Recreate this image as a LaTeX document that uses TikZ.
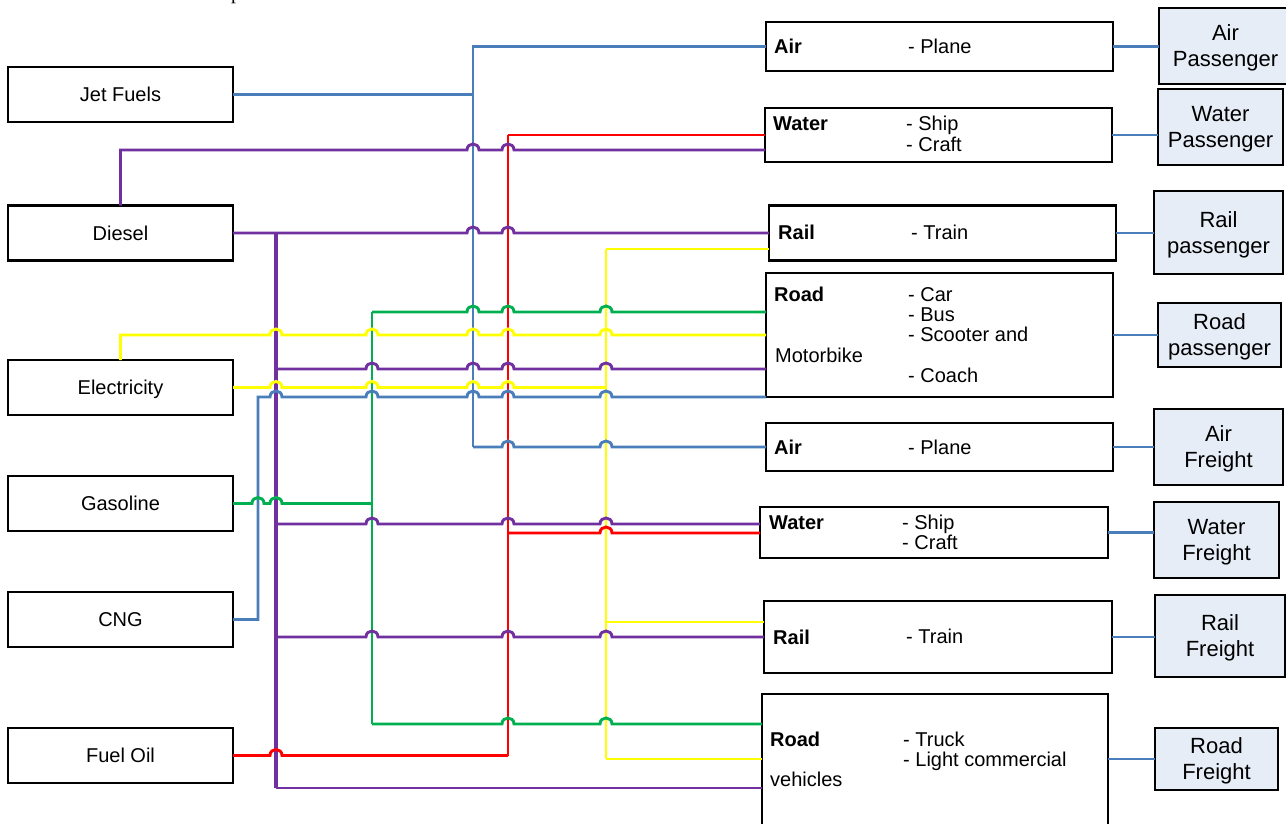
\documentclass[tikz,border=0pt]{standalone}
\usepackage{fontspec}
\setmainfont{Liberation Sans}
\newfontfamily\capfont{Liberation Serif}
\definecolor{cblue}{HTML}{4A7EBB}
\definecolor{cpurple}{HTML}{7030A0}
\definecolor{cred}{HTML}{FF0000}
\definecolor{cyellow}{HTML}{FFFF00}
\definecolor{cgreen}{HTML}{00B050}
\definecolor{cfill}{HTML}{E6EDF7}
\newcommand{\jmp}[2]{-- ({#1-6},{#2}) .. controls ({#1-6},{#2-8}) and ({#1+6},{#2-8}) .. ({#1+6},{#2})}
\begin{document}
\begin{tikzpicture}[x=1pt,y=-1pt,
  box/.style={draw=black, line width=2.6pt, inner sep=0pt, outer sep=0pt, font=\fontsize{20}{21}\selectfont, text height=14.3pt, text depth=0pt},
  lbox/.style={box, minimum width=225pt, minimum height=55pt},
  mbox/.style={box},
  rbox/.style={box, fill=cfill, align=center, font=\fontsize{22}{26}\selectfont, text height=41.7pt, text depth=0pt},
  lab/.style={inner sep=0pt, anchor=base west, font=\fontsize{20}{21}\selectfont},
  conn/.style={line width=2.9pt},
  bl/.style={conn, draw=cblue},
  pu/.style={conn, draw=cpurple},
  rd/.style={conn, draw=cred},
  ye/.style={conn, draw=cyellow},
  gr/.style={conn, draw=cgreen}]
\useasboundingbox (0,0) rectangle (1286,823);
\node[inner sep=0pt, anchor=base west, font=\capfont\fontsize{20}{22}\selectfont] (frag) at (231,-0.5) {p};

% left boxes
\node[lbox] (jet) at (120.5,94.5) {Jet Fuels};
\node[lbox] (diesel) at (120.5,233) {Diesel};
\node[lbox] (elec) at (120.5,387.5) {Electricity};
\node[lbox] (gas) at (120.5,503.5) {Gasoline};
\node[lbox] (cng) at (120.5,619.5) {CNG};
\node[lbox] (fuel) at (120.5,755.5) {Fuel Oil};

% middle boxes
\node[mbox, minimum width=347pt, minimum height=49pt] (mAirP) at (939.5,46.5) {};
\node[mbox, minimum width=347pt, minimum height=54pt] (mWatP) at (938.5,135) {};
\node[mbox, minimum width=347pt, minimum height=55pt] (mRailP) at (942.5,233) {};
\node[mbox, minimum width=347pt, minimum height=124pt] (mRoadP) at (939.5,335) {};
\node[mbox, minimum width=347pt, minimum height=48pt] (mAirF) at (939.5,447) {};
\node[mbox, minimum width=348pt, minimum height=51pt] (mWatF) at (934,532.5) {};
\node[mbox, minimum width=348pt, minimum height=72pt] (mRailF) at (938,637) {};
\node[mbox, minimum width=346pt, minimum height=156pt] (mRoadF) at (935,772) {};

% middle box texts
\node[lab] (tAirP) at (774,53) {\textbf{Air}};
\node[lab] (tAirP2) at (908,53) {- Plane};
\node[lab] (tWatP) at (773,130) {\textbf{Water}};
\node[lab] (tWatP2) at (906,130) {- Ship};
\node[lab] (tWatP3) at (906,151) {- Craft};
\node[lab] (tRailP) at (778,239) {\textbf{Rail}};
\node[lab] (tRailP2) at (911,239) {- Train};
\node[lab] (tRoadP) at (774,301) {\textbf{Road}};
\node[lab] (tRoadP5) at (775,362) {Motorbike};
\node[lab] (tRoadP1) at (908,301) {- Car};
\node[lab] (tRoadP2) at (908,321) {- Bus};
\node[lab] (tRoadP3) at (908,341) {- Scooter and};
\node[lab] (tRoadP4) at (908,382) {- Coach};
\node[lab] (tAirF) at (774,454) {\textbf{Air}};
\node[lab] (tAirF2) at (908,454) {- Plane};
\node[lab] (tWatF) at (769,529) {\textbf{Water}};
\node[lab] (tWatF2) at (902,529) {- Ship};
\node[lab] (tWatF3) at (902,549) {- Craft};
\node[lab] (tRailF) at (773,644) {\textbf{Rail}};
\node[lab] (tRailF2) at (906,643) {- Train};
\node[lab] (tRoadF) at (770,746) {\textbf{Road}};
\node[lab] (tRoadF4) at (770,786) {vehicles};
\node[lab] (tRoadF2) at (903,746) {- Truck};
\node[lab] (tRoadF3) at (903,766) {- Light commercial};

% right boxes
\node[rbox, minimum width=133pt, minimum height=76pt] (rAirP) at (1225.5,46) {Air\\Passenger};
\node[rbox, minimum width=125pt, minimum height=76pt] (rWatP) at (1220.5,127) {Water\\Passenger};
\node[rbox, minimum width=129pt, minimum height=83pt] (rRailP) at (1218.5,232.5) {Rail\\passenger};
\node[rbox, minimum width=123pt, minimum height=64pt] (rRoadP) at (1219.5,335) {Road\\passenger};
\node[rbox, minimum width=129pt, minimum height=76pt] (rAirF) at (1218.5,447) {Air\\Freight};
\node[rbox, minimum width=125pt, minimum height=76pt] (rWatF) at (1216.5,540) {Water\\Freight};
\node[rbox, minimum width=130pt, minimum height=82pt] (rRailF) at (1220,636) {Rail\\Freight};
\node[rbox, minimum width=123pt, minimum height=62pt] (rRoadF) at (1216.5,759) {Road\\Freight};

% middle -> right connectors
\draw[bl] (mAirP.east) -- (rAirP.west |- mAirP.east);
\draw[bl] (mWatP.east) -- (rWatP.west |- mWatP.east);
\draw[bl] (mRailP.east) -- (rRailP.west |- mRailP.east);
\draw[bl] (mRoadP.east) -- (rRoadP.west |- mRoadP.east);
\draw[bl] (mAirF.east) -- (rAirF.west |- mAirF.east);
\draw[bl] (mWatF.east) -- (rWatF.west |- mWatF.east);
\draw[bl] (mRailF.east) -- (rRailF.west |- mRailF.east);
\draw[bl] (mRoadF.east |- rRoadF.west) -- (rRoadF.west);

% verticals
\draw[bl] (mAirP.west) -- (473,46.5) -- (473,447);
\draw[pu, line width=4.5pt] (276,233) -- (276,788);
\draw[rd] (508,755.5) -- (508,135);
\draw[ye] (606,249) -- (606,759);
\draw[gr] (372,312) -- (372,724);

% blue (Jet Fuels, CNG)
\draw[bl] (jet.east) -- (473,94.5);
\draw[bl] (473,447) \jmp{508}{447} \jmp{606}{447} -- (mAirF.west);
\draw[bl] (cng.east) -- (258,619.5) -- (258,397) \jmp{276}{397} \jmp{372}{397} \jmp{473}{397} \jmp{508}{397} \jmp{606}{397} -- (mRoadP.west |- 0,397);

% purple (Diesel)
\draw[pu] (diesel.north) -- (120.5,150) \jmp{473}{150} \jmp{508}{150} -- (mWatP.west |- 0,150);
\draw[pu] (diesel.east) \jmp{473}{233} \jmp{508}{233} -- (mRailP.west);
\draw[pu] (276,369) \jmp{372}{369} \jmp{473}{369} \jmp{508}{369} \jmp{606}{369} -- (mRoadP.west |- 0,369);
\draw[pu] (276,524) \jmp{372}{524} \jmp{508}{524} \jmp{606}{524} -- (mWatF.west |- 0,524);
\draw[pu] (276,637) \jmp{372}{637} \jmp{508}{637} \jmp{606}{637} -- (mRailF.west |- 0,637);
\draw[pu] (276,788) -- (mRoadF.west |- 0,788);

% red (Fuel Oil)
\draw[rd] (fuel.east) \jmp{276}{755.5} -- (508,755.5);
\draw[rd] (508,135) -- (mWatP.west |- 0,135);
\draw[rd] (508,533) \jmp{606}{533} -- (mWatF.west |- 0,533);

% yellow (Electricity)
\draw[ye] (elec.north) -- (120.5,335) \jmp{276}{335} \jmp{372}{335} \jmp{473}{335} \jmp{508}{335} \jmp{606}{335} -- (mRoadP.west |- 0,335);
\draw[ye] (elec.east) \jmp{276}{387.5} \jmp{372}{387.5} \jmp{473}{387.5} \jmp{508}{387.5} -- (606,387.5);
\draw[ye] (606,249) -- (mRailP.west |- 0,249);
\draw[ye] (606,622) -- (mRailF.west |- 0,622);
\draw[ye] (606,759) -- (mRoadF.west |- 0,759);

% green (Gasoline)
\draw[gr] (gas.east) \jmp{258}{503.5} \jmp{276}{503.5} -- (372,503.5);
\draw[gr] (372,312) \jmp{473}{312} \jmp{508}{312} \jmp{606}{312} -- (mRoadP.west |- 0,312);
\draw[gr] (372,724) \jmp{508}{724} \jmp{606}{724} -- (mRoadF.west |- 0,724);
\end{tikzpicture}
\end{document}
